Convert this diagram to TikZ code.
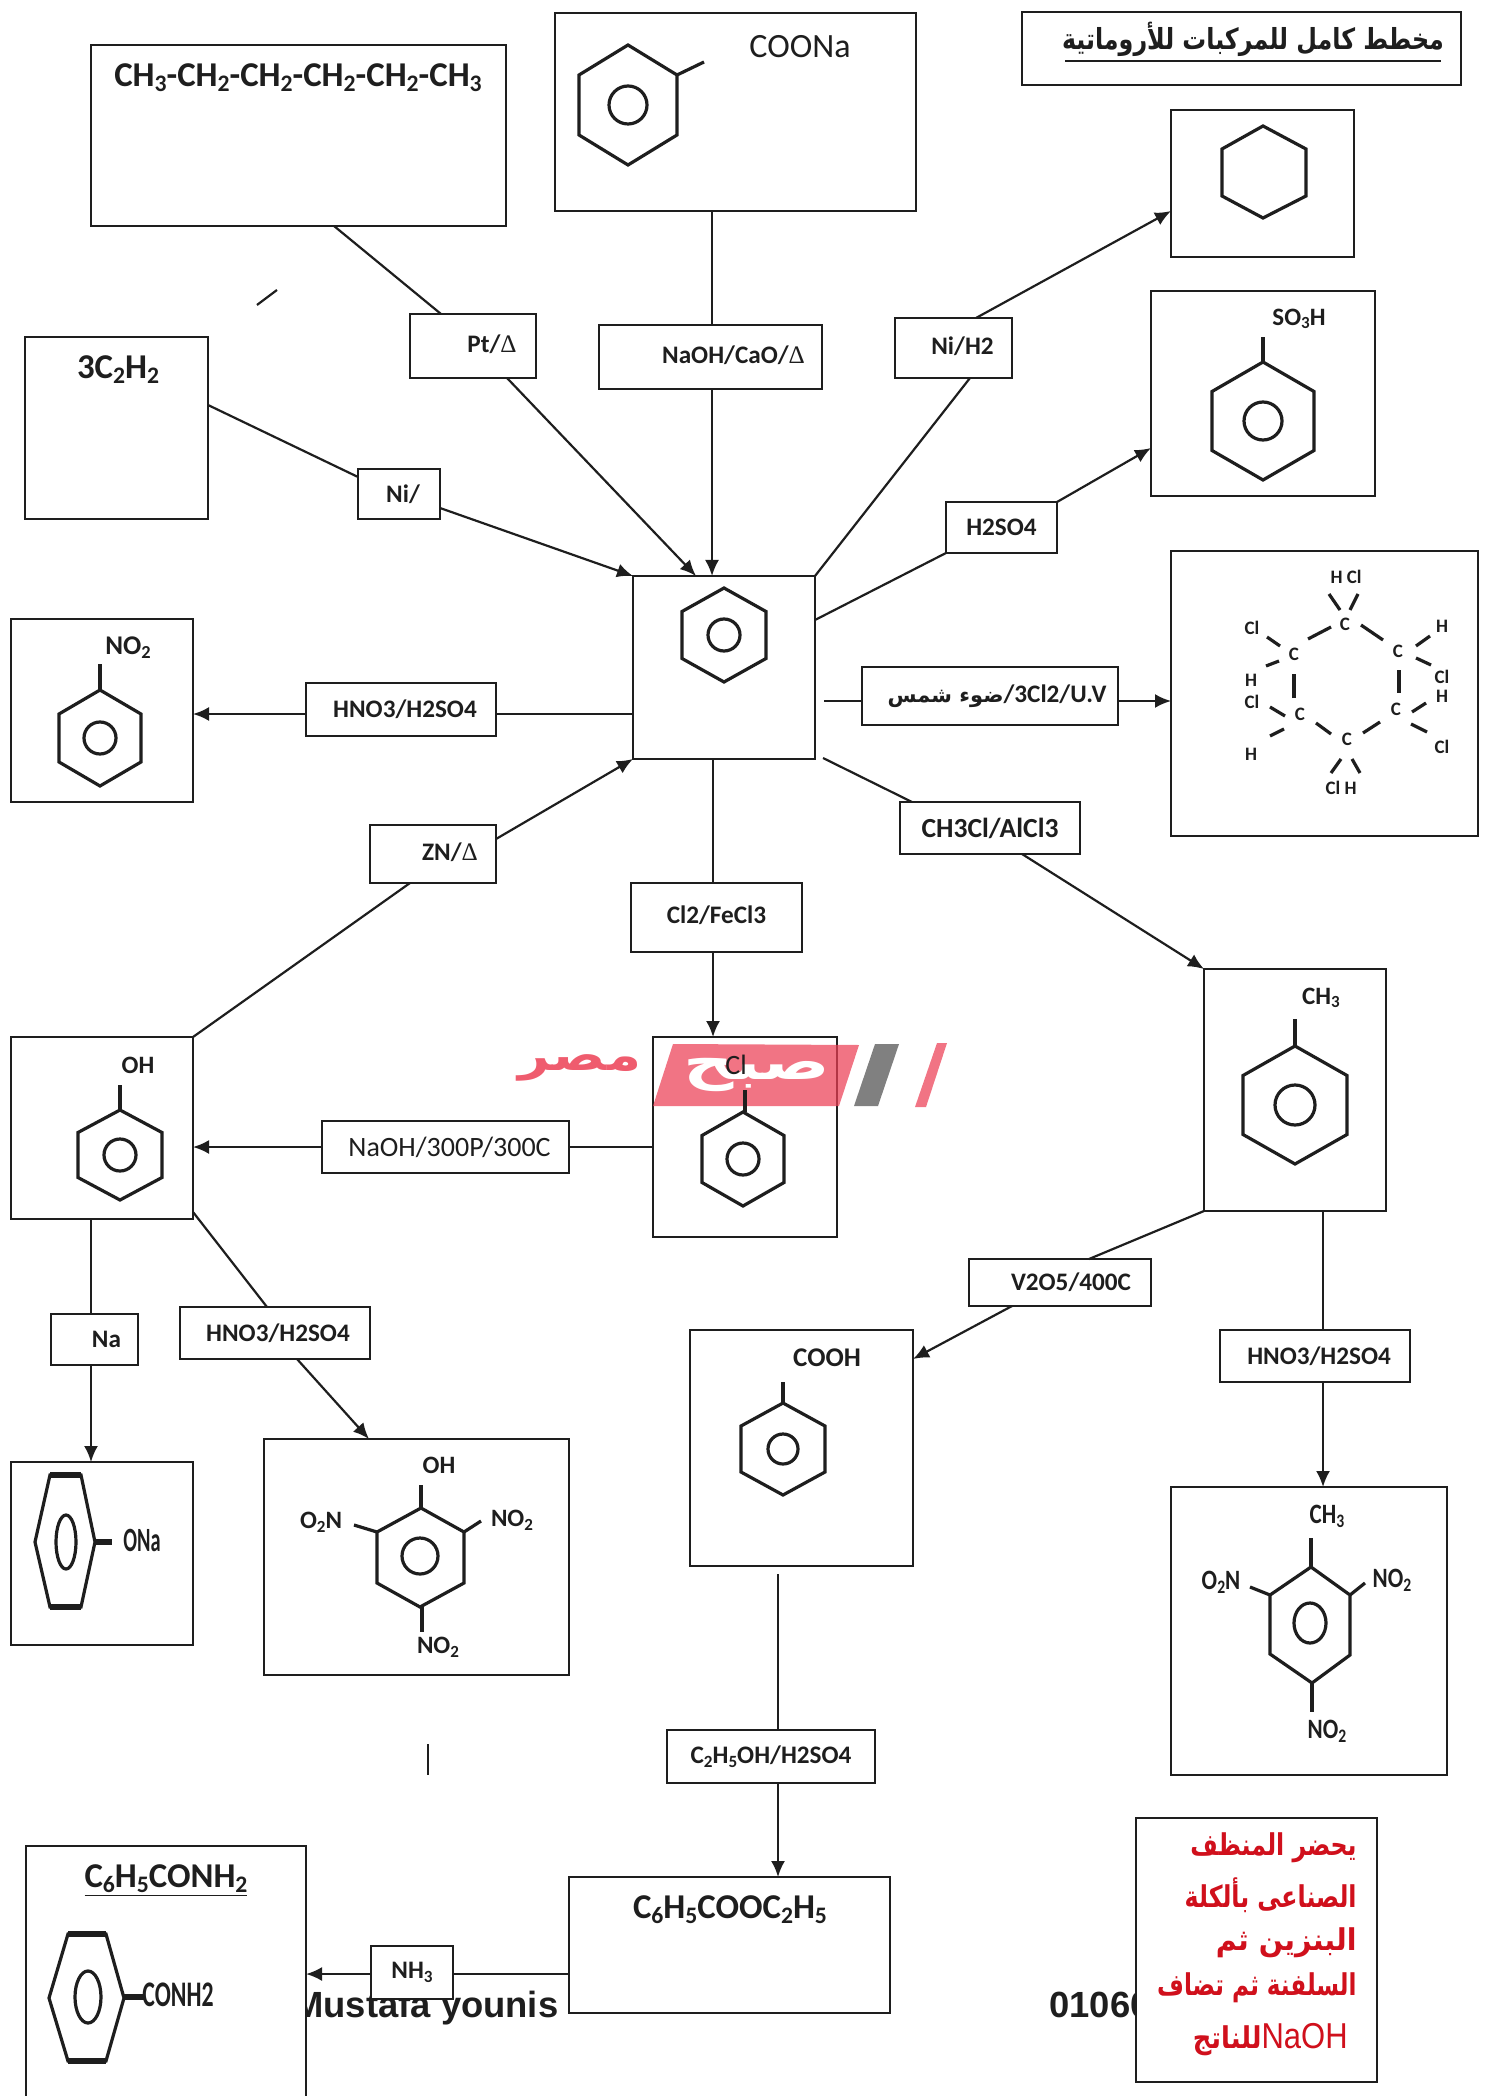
\documentclass[tikz,border=0pt]{standalone}
\usepackage{fontspec}
\usepackage{graphicx}
\usetikzlibrary{arrows.meta}
\setmainfont{Carlito}
\TeXXeTstate=1
\newfontfamily\arabicfont[Script=Arabic]{DejaVu Sans}
\newfontfamily\serf{Liberation Serif}
\newfontfamily\arial{Liberation Sans}
\definecolor{ink}{HTML}{1E1E1E}
\definecolor{wmred}{HTML}{EC3F55}
\definecolor{wmgray}{HTML}{6A6A6A}
\definecolor{redtxt}{HTML}{D0101C}
\newcommand{\dn}[1]{\raisebox{-.3ex}{\scalebox{.68}{#1}}}
\newcommand{\Dl}{{\serf\mdseries Δ}}
\newcommand{\up}[2][2]{\raisebox{#1pt}{#2}}
% \bx[style]{name}{x1}{y1}{x2}{y2}{text}
\newcommand{\bx}[7][boxn]{%
  \pgfmathsetmacro\bw{(#5-#3)*.5}\pgfmathsetmacro\bh{(#6-#4)*.5}%
  \node[#1,minimum width=\bw pt,minimum height=\bh pt] (#2) at ({(#3+#5)/2},{(#4+#6)/2}) {#7};}
% \hexa{cx}{cy}{half width}{R}{circle r}
\newcommand{\hexa}[5]{%
  \draw[ring,shift={(#1,#2)}] (0,-#4) -- (#3,{-#4/2}) -- (#3,{#4/2}) -- (0,#4) -- (-#3,{#4/2}) -- (-#3,{-#4/2}) -- cycle;
  \draw[ring] (#1,#2) circle [radius=#5];}
\begin{document}
\begin{tikzpicture}[x=.5pt,y=-.5pt,
  boxn/.style={draw=ink,fill=white,line width=1.1pt,inner sep=0pt,outer sep=0pt,font=\bfseries\fontsize{12.6}{15}\selectfont,text=ink,align=center},
  regl/.style={boxn,font=\fontsize{14}{16}\selectfont},
  medl/.style={boxn,font=\bfseries\fontsize{13.8}{16}\selectfont},
  plainbox/.style={draw=ink,fill=white,line width=1.1pt,inner sep=0pt,outer sep=0pt},
  link/.style={draw=ink,line width=1.1pt},
  arr/.style={link,-{Latex[length=8pt,width=7pt]}},
  ring/.style={draw=ink,line width=1.6pt,line join=miter},
  thickb/.style={draw=ink,line width=2.8pt},
  mol/.style={text=ink,inner sep=0pt,font=\bfseries\fontsize{12.5}{14}\selectfont},
  big/.style={text=ink,inner sep=0pt,font=\bfseries\fontsize{17.4}{19}\selectfont},
  small/.style={text=ink,inner sep=0pt,font=\bfseries\fontsize{9.5}{11}\selectfont},
  ink2/.style={text=ink,inner sep=0pt,font=\bfseries\fontsize{14}{16}\selectfont},
  redl/.style={anchor=east,text=redtxt,inner sep=0pt,font=\arabicfont\bfseries\fontsize{15}{17}\selectfont},
  latin/.style={text=ink,inner sep=0pt,anchor=base west,font=\arial\bfseries\fontsize{18.2}{20}\selectfont},
]
\useasboundingbox (0,0) rectangle (1489,2096);

% text partly covered by the boxes
\node[latin] (author) at (293,2017) {Mustafa younis};
\node[latin] (phone) at (1049,2017) {01060};

% stray marks
\draw[link] (257,305) -- (277,290);
\draw[link] (428,1744) -- (428,1775);

% main boxes
\bx[plainbox]{hex}{91}{45}{506}{226}{}
\bx[plainbox]{coona}{555}{13}{916}{211}{}
\bx[plainbox]{ttl}{1022}{12}{1461}{85}{}
\bx[plainbox]{cyc}{1171}{110}{1354}{257}{}
\bx[plainbox]{so}{1151}{291}{1375}{496}{}
\bx[plainbox]{ace}{25}{337}{208}{519}{}
\bx[plainbox]{cen}{633}{576}{815}{759}{}
\bx[plainbox]{nit}{11}{619}{193}{802}{}
\bx[plainbox]{bhc}{1171}{551}{1478}{836}{}
\bx[plainbox]{oh}{11}{1037}{193}{1219}{}
\bx[plainbox]{clb}{653}{1037}{837}{1237}{}
\bx[plainbox]{tol}{1204}{969}{1386}{1211}{}
\bx[plainbox]{cooh}{690}{1330}{913}{1566}{}
\bx[plainbox]{ona}{11}{1462}{193}{1645}{}
\bx[plainbox]{tnp}{264}{1439}{569}{1675}{}
\bx[plainbox]{tnt}{1171}{1487}{1447}{1775}{}
\bx[plainbox]{est}{569}{1877}{890}{2013}{}
\bx[plainbox]{ami}{26}{1846}{306}{2110}{}
\bx[plainbox]{note}{1136}{1818}{1377}{2082}{}

% free ends
\coordinate (c3) at (824,701);
\coordinate (c4) at (823,758);
\coordinate (c5) at (778,1574);

% reagent boxes
\bx{lpt}{410}{314}{536}{378}{\hspace*{19pt}\up{Pt/\Dl}}
\bx{lna}{599}{325}{822}{389}{\hspace*{23pt}\up{NaOH/CaO/\Dl}}
\bx{lni}{895}{318}{1012}{378}{\hspace*{9pt}\up{Ni/H2}}
\bx{lni2}{358}{469}{440}{519}{\hspace*{4pt}Ni/}
\bx{lso}{946}{502}{1057}{553}{H2SO4}
\bx{lhno}{306}{683}{496}{736}{\hspace*{4pt}HNO3/H2SO4}
\bx{lcl}{862}{667}{1118}{725}{\hspace*{7pt}{\arabicfont\bfseries\fontsize{10.5}{12}\selectfont\beginR ضوء شمس\endR}/3Cl2/U.V}
\bx[medl]{lch}{900}{802}{1080}{854}{CH3Cl/AlCl3}
\bx{lzn}{370}{825}{496}{883}{\hspace*{17pt}\up{ZN/\Dl}}
\bx{lfe}{631}{883}{802}{952}{\up[2.6]{Cl2/FeCl3}}
\bx[regl]{l300}{322}{1121}{569}{1173}{\hspace*{4pt}NaOH/300P/300C}
\bx{lv}{969}{1259}{1151}{1306}{\hspace*{11pt}V2O5/400C}
\bx{lhn2}{1220}{1330}{1410}{1382}{\hspace*{4pt}HNO3/H2SO4}
\bx{lna2}{51}{1314}{138}{1365}{\hspace*{12pt}Na}
\bx{lhn3}{180}{1307}{370}{1359}{\hspace*{3pt}HNO3/H2SO4}
\bx{let}{667}{1730}{875}{1783}{C\dn{2}H\dn{5}OH/H2SO4}
\bx{lnh}{371}{1946}{453}{1999}{NH\dn{3}}

% connectors
\draw[link] (hex.south -| 334,0) -- (lpt.north -| 441,0);
\draw[arr] (lpt.south -| 507,0) -- (cen.north -| 696,0);
\draw[link] (coona.south -| 712,0) -- (lna.north -| 712,0);
\draw[arr] (lna.south -| 712,0) -- (cen.north -| 712,0);
\draw[link] (cen.north east) -- (lni.south -| 970,0);
\draw[arr] (lni.north -| 976,0) -- (cyc.west |- 0,211);
\draw[link] (cen.east |- 0,620) -- (lso.south west);
\draw[arr] (lso.north east) -- (so.west |- 0,448);
\draw[link] (ace.east |- 0,405) -- (lni2.west |- 0,477);
\draw[arr] (lni2.east |- 0,508) -- (cen.north west);
\draw[link] (cen.west |- 0,714) -- (lhno.east |- 0,714);
\draw[arr] (lhno.west |- 0,714) -- (nit.east |- 0,714);
\draw[link] (c3) -- (lcl.west |- c3);
\draw[arr] (lcl.east |- c3) -- (bhc.west |- c3);
\draw[link] (c4) -- (lch.north -| 912,0);
\draw[arr] (lch.south -| 1022,0) -- (tol.north west);
\draw[link] (cen.south -| 713,0) -- (lfe.north -| 713,0);
\draw[arr] (lfe.south -| 713,0) -- (clb.north -| 713,0);
\draw[link] (oh.north east) -- (lzn.south -| 410,0);
\draw[arr] (lzn.east |- 0,839) -- (cen.south west);
\draw[link] (clb.west |- 0,1147) -- (l300.east |- 0,1147);
\draw[arr] (l300.west |- 0,1147) -- (oh.east |- 0,1147);
\draw[link] (oh.south -| 91,0) -- (lna2.north -| 91,0);
\draw[arr] (lna2.south -| 91,0) -- (ona.north -| 91,0);
\draw[link] (oh.east |- 0,1212) -- (lhn3.north -| 267,0);
\draw[arr] (lhn3.south -| 297,0) -- (tnp.north -| 369,0);
\draw[link] (tol.south west) -- (lv.north -| 1089,0);
\draw[arr] (lv.south -| 1012,0) -- (cooh.east |- 0,1359);
\draw[link] (tol.south -| 1323,0) -- (lhn2.north -| 1323,0);
\draw[arr] (lhn2.south -| 1323,0) -- (tnt.north -| 1323,0);
\draw[link] (c5) -- (let.north -| c5);
\draw[arr] (let.south -| c5) -- (est.north -| c5);
\draw[link] (est.west |- 0,1974) -- (lnh.east |- 0,1974);
\draw[arr] (lnh.west |- 0,1974) -- (ami.east |- 0,1974);

% title
\node[text=ink,inner sep=0pt,font=\arabicfont\bfseries\fontsize{14.5}{17}\selectfont] (ttxt) at (1253,39) {\scalebox{.82}[1]{\beginR مخطط كامل  للمركبات للأروماتية\endR}};
\coordinate (ua) at (1065,61);
\coordinate (ub) at (1441,61);
\draw[link,line width=1.3pt] (ua) -- (ub);

% formulas
\node[big] (thex) at (298,78) {CH\dn{3}-CH\dn{2}-CH\dn{2}-CH\dn{2}-CH\dn{2}-CH\dn{3}};
\node[big] (tace) at (118,370) {3C\dn{2}H\dn{2}};
\node[big] (test) at (730,1910) {C\dn{6}H\dn{5}COOC\dn{2}H\dn{5}};
\node[big] (tami) at (166,1881) {\underline{C\dn{6}H\dn{5}CONH\dn{2}}};

% sodium benzoate
\hexa{628}{105}{49}{60}{19}
\draw[ring] (677,75) -- (704,62);
\node[text=ink,inner sep=0pt,font=\fontsize{17}{19}\selectfont] (tcoona) at (800,47) {COONa};

% cyclohexane
\draw[ring] (1263,126) -- (1306,149) -- (1306,196) -- (1263,218) -- (1222,196) -- (1222,149) -- cycle;

% benzenesulfonic acid
\hexa{1263}{421}{51}{59}{19}
\draw[ring] (1263,362) -- (1263,337);
\node[mol] (tso) at (1299,319) {SO\dn{3}H};

% benzene
\hexa{724}{635}{42}{47}{16}

% nitrobenzene
\hexa{100}{738}{41}{48}{16}
\draw[ring] (100,690) -- (100,664);
\node[mol,font=\bfseries\fontsize{13.5}{15}\selectfont] (tnit) at (128,648) {NO\dn{2}};

% phenol
\hexa{120}{1155}{42}{45}{16}
\draw[ring] (120,1110) -- (120,1085);
\node[mol] (toh) at (138,1065) {OH};

% chlorobenzene
\hexa{743}{1159}{41}{47}{16}

% toluene
\hexa{1295}{1105}{52}{59}{20}
\draw[ring] (1295,1046) -- (1295,1019);
\node[mol] (tch) at (1321,998) {CH\dn{3}};

% benzoic acid
\hexa{783}{1449}{42}{46}{15}
\draw[ring] (783,1403) -- (783,1382);
\node[mol,font=\bfseries\fontsize{13.5}{15}\selectfont] (tcoh) at (827,1358) {COOH};

% sodium phenoxide
\draw[ring] (50,1475) -- (81,1475) -- (95,1542) -- (81,1607) -- (50,1607) -- (35,1542) -- cycle;
\draw[thickb] (50,1475) -- (81,1475);
\draw[thickb] (50,1607) -- (81,1607);
\draw[ring] (66,1542) ellipse [x radius=10,y radius=27];
\draw[thickb] (95,1542) -- (112,1542);
\node[ink2,font=\bfseries\fontsize{17}{19}\selectfont] (tona) at (142,1540) {\scalebox{.6}[1]{ONa}};

% picric acid
\draw[ring] (421,1508) -- (464,1532) -- (464,1583) -- (420,1607) -- (377,1583) -- (377,1532) -- cycle;
\draw[ring] (420,1556) circle [radius=18];
\draw[ring] (421,1508) -- (421,1485);
\draw[ring] (377,1532) -- (354,1525);
\draw[ring] (464,1532) -- (481,1521);
\draw[ring] (422,1607) -- (422,1632);
\node[mol] (p1) at (439,1465) {OH};
\node[mol] (p2) at (321,1522) {O\dn{2}N};
\node[mol] (p3) at (512,1520) {NO\dn{2}};
\node[mol] (p4) at (438,1647) {NO\dn{2}};

% TNT
\draw[ring] (1311,1567) -- (1350,1595) -- (1350,1655) -- (1312,1683) -- (1270,1654) -- (1270,1595) -- cycle;
\draw[ring] (1310,1623) ellipse [x radius=16,y radius=20];
\draw[ring] (1311,1567) -- (1311,1538);
\draw[ring] (1270,1595) -- (1250,1587);
\draw[ring] (1350,1595) -- (1365,1583);
\draw[ring] (1312,1683) -- (1312,1712);
\node[mol,font=\bfseries\fontsize{14}{16}\selectfont] (n1) at (1327,1516) {\scalebox{.82}[1]{CH\dn{3}}};
\node[mol,font=\bfseries\fontsize{14}{16}\selectfont] (n2) at (1221,1582) {\scalebox{.82}[1]{O\dn{2}N}};
\node[mol,font=\bfseries\fontsize{14}{16}\selectfont] (n3) at (1392,1580) {\scalebox{.82}[1]{NO\dn{2}}};
\node[mol,font=\bfseries\fontsize{14}{16}\selectfont] (n4) at (1327,1731) {\scalebox{.82}[1]{NO\dn{2}}};

% benzamide
\draw[ring] (68,1934) -- (106,1934) -- (124,1998) -- (106,2061) -- (68,2061) -- (49,1998) -- cycle;
\draw[thickb] (68,1934) -- (106,1934);
\draw[thickb] (68,2061) -- (106,2061);
\draw[ring] (88,1997) ellipse [x radius=13,y radius=26];
\draw[thickb] (124,1997) -- (145,1997);
\node[ink2,font=\bfseries\fontsize{18}{20}\selectfont] (tamd) at (178,1995) {\scalebox{.66}[1]{CONH2}};

% hexachlorocyclohexane
\node[small] (h1) at (1346,577) {H Cl};
\node[small] (h2) at (1345,624) {C};
\node[small] (h3) at (1398,651) {C};
\node[small] (h4) at (1396,709) {C};
\node[small] (h5) at (1347,739) {C};
\node[small] (h6) at (1300,714) {C};
\node[small] (h7) at (1294,654) {C};
\node[small] (h8) at (1442,626) {H};
\node[small] (h9) at (1442,677) {Cl};
\node[small] (h10) at (1442,696) {H};
\node[small] (h11) at (1442,747) {Cl};
\node[small] (h12) at (1341,788) {Cl H};
\node[small] (h13) at (1252,702) {Cl};
\node[small] (h14) at (1251,754) {H};
\node[small] (h15) at (1252,628) {Cl};
\node[small] (h16) at (1251,680) {H};
\draw[ring] (1331,627) -- (1308,639);
\draw[ring] (1361,625) -- (1383,640);
\draw[ring] (1399,670) -- (1399,693);
\draw[ring] (1380,722) -- (1363,733);
\draw[ring] (1331,734) -- (1316,723);
\draw[ring] (1294,698) -- (1294,674);
\draw[ring] (1329,594) -- (1340,610);
\draw[ring] (1358,594) -- (1350,610);
\draw[ring] (1430,636) -- (1416,646);
\draw[ring] (1416,658) -- (1431,665);
\draw[ring] (1426,703) -- (1412,712);
\draw[ring] (1411,724) -- (1427,732);
\draw[ring] (1341,759) -- (1331,773);
\draw[ring] (1352,759) -- (1360,773);
\draw[ring] (1285,716) -- (1270,707);
\draw[ring] (1284,729) -- (1270,736);
\draw[ring] (1280,646) -- (1267,637);
\draw[ring] (1279,661) -- (1266,666);

% red note
\node[redl] (r1) at (1357,1848) {\scalebox{.79}[1]{\beginR يحضر المنظف\endR}};
\node[redl] (r2) at (1357,1895) {\scalebox{.79}[1]{\beginR الصناعى بألكلة\endR}};
\node[redl] (r3) at (1357,1943) {\scalebox{.95}[1]{\beginR البنزين ثم\endR}};
\node[redl] (r4) at (1357,1988) {\scalebox{.77}[1]{\beginR السلفنة ثم تضاف\endR}};
\node[redl] (r5) at (1348,2040) {\scalebox{.86}[1]{\beginR\beginL{\arial\fontsize{18}{20}\selectfont\mdseries NaOH}\endL للناتج\endR}};

% watermark
\fill[wmred,opacity=.72] (653,1106) -- (673,1044) -- (859,1045) -- (839,1106) -- cycle;
\fill[wmgray,opacity=.85] (854,1106) -- (875,1044) -- (899,1044) -- (878,1106) -- cycle;
\fill[wmred,opacity=.72] (915,1107) -- (937,1043) -- (947,1043) -- (926,1107) -- cycle;
\node[text=white,inner sep=0pt,font=\arabicfont\bfseries\fontsize{20}{22}\selectfont] (wm1) at (757,1075) {\scalebox{1.75}[1.25]{\beginR صبح\endR}};
\node[text=wmred!85,inner sep=0pt,font=\arabicfont\bfseries\fontsize{22}{24}\selectfont] (wm2) at (580,1068) {\scalebox{1.25}[1]{\beginR مصر\endR}};

% chlorine of chlorobenzene, above the watermark
\draw[ring] (745,1112) -- (745,1090);
\node[ink2,font=\fontsize{14}{16}\selectfont] (tcl) at (736,1065) {Cl};
\end{tikzpicture}
\end{document}
